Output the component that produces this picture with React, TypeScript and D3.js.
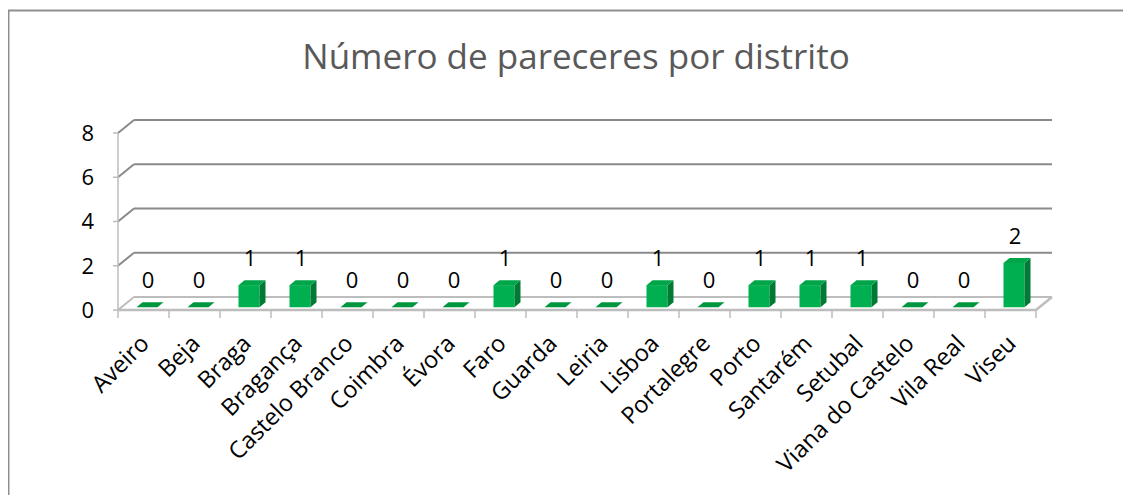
import React from "react";
import * as d3 from "d3";

const districts = [
  "Aveiro", "Beja", "Braga", "Bragança", "Castelo Branco", "Coimbra", "Évora",
  "Faro", "Guarda", "Leiria", "Lisboa", "Portalegre", "Porto", "Santarém",
  "Setubal", "Viana do Castelo", "Vila Real", "Viseu",
];
const pareceres = [0, 0, 1, 1, 0, 0, 0, 1, 0, 0, 1, 0, 1, 1, 1, 0, 0, 2];
const yTicks = [0, 2, 4, 6, 8];
const title = "Número de pareceres por distrito";

// depth of the 3d box (back wall offset)
const DX = 16;
const DY = -13;

export default function App() {
  const x = d3.scaleBand<string>().domain(districts).range([118, 1036]);
  const y = d3.scaleLinear().domain([0, 8]).range([310, 133]);
  const bw = x.bandwidth();

  // bar sits a quarter into the floor
  const by = DY * 0.25;
  const ddx = 6, ddy = -5;
  const faceW = 21;

  const font = "'Open Sans', sans-serif";
  const grid = "#8a8a8a";
  const axis = "#bdbdbd";

  return (
    <svg width={1123} height={487} style={{ display: "block", overflow: "visible" }}>
      <g transform="translate(-8,-8)">
        <path d="M8.5,495 V10.5 H1131" fill="none" stroke="#8f8f8f" strokeWidth={2} />

        <text x={576} y={69} textAnchor="middle" fontFamily={font} fontSize={35} fill="#595959">
          {title}
        </text>

        {/* back wall + side wall gridlines */}
        {yTicks.map((t) => (
          <g key={t}>
            <line x1={118} y1={y(t)} x2={118 + DX} y2={y(t) + DY} stroke={t === 0 ? axis : grid} strokeWidth={2} />
            <line x1={118 + DX} y1={y(t) + DY} x2={1036 + DX} y2={y(t) + DY} stroke={t === 0 ? axis : grid} strokeWidth={2} />
            <line x1={113} y1={y(t)} x2={118} y2={y(t)} stroke={axis} strokeWidth={1.5} />
            <text x={94} y={y(t)} dy="0.36em" textAnchor="end" fontFamily={font} fontSize={22} fill="#000">
              {t}
            </text>
          </g>
        ))}
        <line x1={118} y1={y(0)} x2={118} y2={y(8)} stroke={axis} strokeWidth={1.5} />
        <line x1={1036} y1={y(0)} x2={1036 + DX} y2={y(0) + DY} stroke={axis} strokeWidth={2.5} />
        <line x1={118} y1={y(0)} x2={1036} y2={y(0)} stroke={axis} strokeWidth={2.5} />
        {d3.range(districts.length + 1).map((i) => {
          const tx = 118 + i * bw;
          return <line key={i} x1={tx} y1={y(0)} x2={tx} y2={y(0) + 8} stroke={axis} strokeWidth={1.5} />;
        })}

        {/* bars */}
        {districts.map((d, i) => {
          const cx = (x(d) as number) + bw / 2;
          const x0 = cx - 7;
          const x1 = x0 + faceW;
          const yb = y(0) + by + 0.5;
          const yt = y(pareceres[i]) + by + 0.5;
          const v = pareceres[i];
          return (
            <g key={d}>
              {v === 0 ? (
                <polygon
                  points={`${x0},${yb} ${x1},${yb} ${x1 + ddx},${yb + ddy} ${x0 + ddx},${yb + ddy}`}
                  fill="#00963f"
                />
              ) : (
                <>
                  <rect x={x0} y={yt} width={faceW} height={yb - yt} fill="#00b050" />
                  <polygon
                    points={`${x1},${yb} ${x1},${yt} ${x1 + ddx},${yt + ddy} ${x1 + ddx},${yb + ddy}`}
                    fill="#007a35"
                  />
                  <polygon
                    points={`${x0},${yt} ${x1},${yt} ${x1 + ddx},${yt + ddy} ${x0 + ddx},${yt + ddy}`}
                    fill="#00a548"
                  />
                </>
              )}
              <text x={x0 + faceW / 2 + 1} y={yt - 19} textAnchor="middle" fontFamily={font} fontSize={22} fill="#000">
                {v}
              </text>
              <text
                transform={`translate(${cx + 7},${345}) rotate(-45)`}
                textAnchor="end"
                fontFamily={font}
                fontSize={23.5}
                fill="#000"
              >
                {d}
              </text>
            </g>
          );
        })}
      </g>
    </svg>
  );
}
